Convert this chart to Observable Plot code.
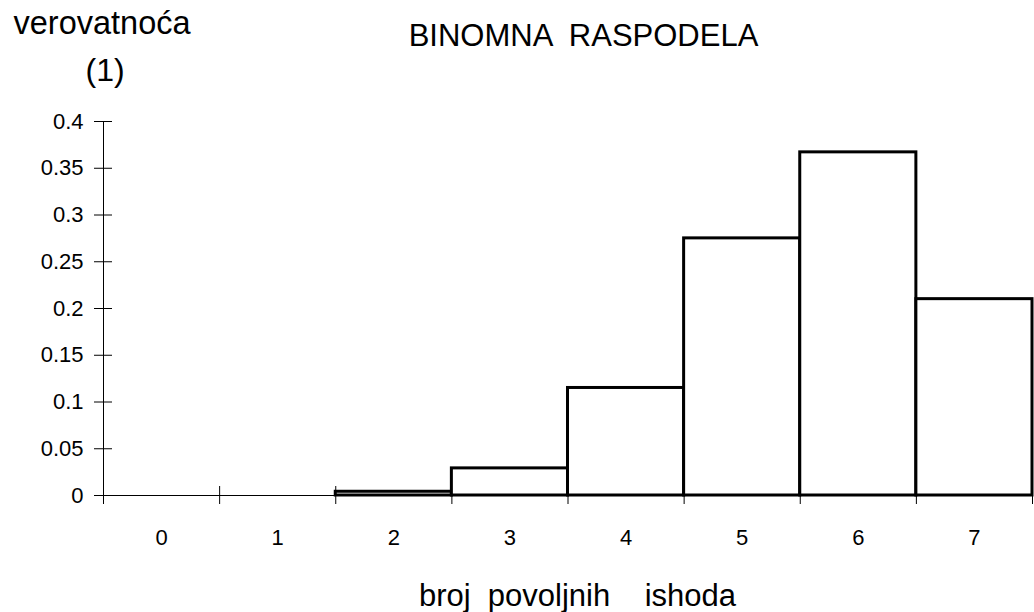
<!DOCTYPE html>
<html>
<head>
<meta charset="utf-8">
<script src="https://cdn.jsdelivr.net/npm/d3@7"></script>
<script src="https://cdn.jsdelivr.net/npm/@observablehq/plot@0.6"></script>
<style>
  html, body { margin: 0; padding: 0; background: #fff; }
  #chart svg { display: block; font-family: "Liberation Sans", Arial, sans-serif; color: #000; }
  #chart svg text { white-space: pre; }
</style>
</head>
<body>
<div id="chart"></div>
<script>
// Data
const outcomes = [0, 1, 2, 3, 4, 5, 6, 7];
const probabilities = [0, 0, 0.004, 0.029, 0.115, 0.275, 0.367, 0.21];
const yTicks = [0, 0.05, 0.1, 0.15, 0.2, 0.25, 0.3, 0.35, 0.4];
const binEdges = [-0.5, 0.5, 1.5, 2.5, 3.5, 4.5, 5.5, 6.5, 7.5];
const titleText = "BINOMNA  RASPODELA";
const yLabel1 = "verovatnoća";
const yLabel2 = "(1)";
const xLabel = "broj  povoljnih    ishoda";

const bars = outcomes.map((k, i) => ({k, p: probabilities[i]}));

const fontFamily = '"Liberation Sans", Arial, sans-serif';

const chart = Plot.plot({
  width: 1034,
  height: 612,
  marginTop: 121,
  marginBottom: 117,
  marginLeft: 103,
  marginRight: 2,
  style: {fontFamily, color: "#000", background: "#fff"},
  x: {type: "linear", domain: [-0.5, 7.5]},
  y: {domain: [0, 0.4]},
  marks: [
    Plot.ruleY([0], {stroke: "#000", strokeWidth: 1}),
    Plot.ruleX([-0.5], {y1: 0, y2: 0.4, stroke: "#000", strokeWidth: 1}),
    Plot.axisY(yTicks, {tickSize: 18, dx: 9, tickPadding: 11, fontSize: 22, stroke: "#000", fill: "#000", tickFormat: d => String(d), label: null}),
    Plot.axisX(binEdges, {tickSize: 18, dy: -9, tickFormat: () => "", stroke: "#000", label: null}),
    Plot.axisX(outcomes, {tickSize: 0, tickPadding: 34, fontSize: 22, fill: "#000", tickFormat: d => String(d), label: null}),
    Plot.rectY(bars, {x1: d => d.k - 0.5, x2: d => d.k + 0.5, y: "p", fill: "#fff", stroke: "#000", strokeWidth: 3}),
    Plot.text([titleText], {frameAnchor: "top-left", dx: 480, dy: -76, textAnchor: "middle", lineAnchor: "bottom", fontSize: 31, fill: "#000"}),
    Plot.text([yLabel1], {frameAnchor: "top-left", dx: -90, dy: -88, textAnchor: "start", lineAnchor: "bottom", fontSize: 32.5, fill: "#000"}),
    Plot.text([yLabel2], {frameAnchor: "top-left", dx: -18, dy: -41, textAnchor: "start", lineAnchor: "bottom", fontSize: 32, fill: "#000"}),
    Plot.text([xLabel], {frameAnchor: "bottom-left", dx: 474, dy: 110, textAnchor: "middle", lineAnchor: "bottom", fontSize: 31, fill: "#000"})
  ]
});

document.getElementById("chart").appendChild(chart);
</script>
</body>
</html>
